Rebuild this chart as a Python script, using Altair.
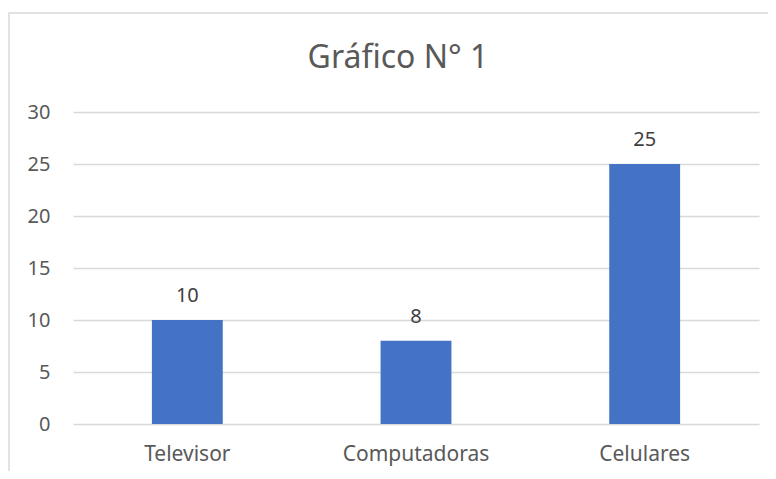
import altair as alt
import pandas as pd

categories = ["Televisor", "Computadoras", "Celulares"]
values = [10, 8, 25]
title_text = "Gráfico N° 1"

df = pd.DataFrame({"cat": categories, "val": values})

FONT = "Noto Sans"
TXT = "#595959"

x_enc = alt.X("cat:N", sort=categories, title=None,
              scale=alt.Scale(paddingInner=0.69, paddingOuter=0.345),
              axis=alt.Axis(labelAngle=0, labelFont=FONT, labelFontSize=21, labelColor=TXT,
                            labelPadding=19, ticks=False, domain=False, grid=False))
y_enc = alt.Y("val:Q", title=None,
              scale=alt.Scale(domain=[0, 30], nice=False),
              axis=alt.Axis(values=[0, 5, 10, 15, 20, 25, 30], labelFont=FONT, labelFontSize=20,
                            labelColor=TXT, labelPadding=23, ticks=False, domain=False,
                            gridColor="#D9D9D9", gridWidth=1.3))

base = alt.Chart(df)

border = alt.Chart(pd.DataFrame({"a": [0]})).mark_rect(
    fill=None, stroke="#D9D9D9", strokeWidth=1.5
).encode(x=alt.value(-64), x2=alt.value(760), y=alt.value(-99), y2=alt.value(420))

title = alt.Chart(pd.DataFrame({"t": [title_text]})).mark_text(
    font=FONT, fontSize=32, color=TXT, align="center", baseline="alphabetic"
).encode(x=alt.value(325), y=alt.value(-44), text="t:N")

bars = base.mark_bar(color="#4472C4").encode(x=x_enc, y=y_enc)
labels = base.mark_text(baseline="alphabetic", dy=-18, font=FONT, fontSize=20, color="#404040").encode(
    x=alt.X("cat:N", sort=categories), y="val:Q", text="val:Q")

chart = alt.layer(border, title, bars, labels).properties(
    width=686, height=312,
    autosize=alt.AutoSizeParams(type="none"),
    padding={"left": 65, "top": 104, "right": 9, "bottom": 47},
).configure_view(stroke=None)

chart.save("out.html", embed_options={"renderer": "svg", "actions": False})
